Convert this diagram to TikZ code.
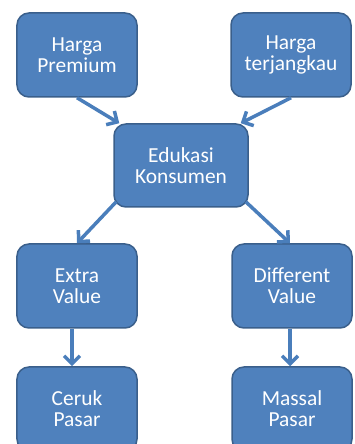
\documentclass[tikz,border=0pt]{standalone}
\usepackage{fontspec}
\setmainfont{Carlito}
\usetikzlibrary{arrows.meta}
\definecolor{boxblue}{HTML}{4F81BD}
\definecolor{boxedge}{HTML}{3A5F8B}
\definecolor{arrowblue}{HTML}{4A7EBB}
\begin{document}
\begin{tikzpicture}[x=1bp, y=1bp,
  box/.style={draw=boxedge, line width=1.5bp, fill=boxblue, rounded corners=12bp,
    minimum width=120bp, minimum height=84bp, align=center, text=white,
    font=\fontsize{21.5}{21}\selectfont},
  link/.style={draw=arrowblue, line width=3.5bp, -{Straight Barb[length=8bp,width=16bp]}}]
\useasboundingbox (0,0) rectangle (354,444);
% harga
\node[box] (premium) at (77,389) {Harga\\Premium};
\node[box] (jangkau) at (291,389) {Harga\\terjangkau};
% edukasi
\node[box, minimum width=134bp, minimum height=83bp] (edukasi) at (181,278.5) {Edukasi\\Konsumen};
% value
\node[box] (extra) at (77,158) {Extra\\Value};
\node[box] (different) at (292,158) {Different\\Value};
% pasar
\node[box] (ceruk) at (77,35) {Ceruk\\Pasar};
\node[box] (massal) at (292,35) {Massal\\Pasar};
% arrows
\draw[link] (premium.south) -- ([xshift=6bp]edukasi.north west);
\draw[link] (jangkau.south) -- ([xshift=-8bp]edukasi.north east);
\draw[link] ([xshift=3bp,yshift=6bp]edukasi.south west) -- (extra.north);
\draw[link] ([xshift=-3bp,yshift=6bp]edukasi.south east) -- ([xshift=-2bp]different.north);
\draw[link] ([xshift=-5bp]extra.south) -- ([xshift=-5bp]ceruk.north);
\draw[link] ([xshift=-2bp]different.south) -- ([xshift=-2bp]massal.north);
\end{tikzpicture}
\end{document}
